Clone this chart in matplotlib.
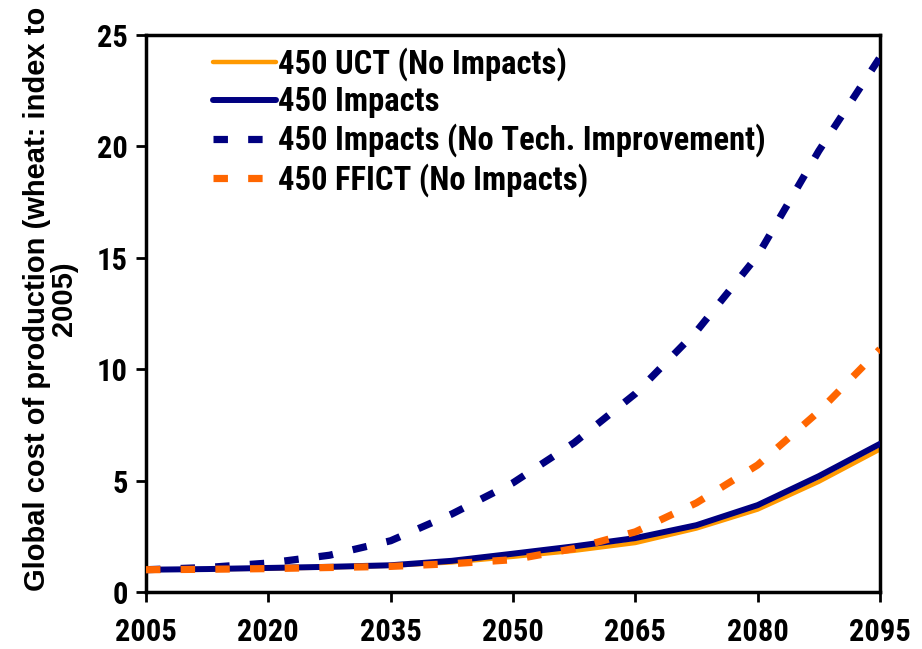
import matplotlib
matplotlib.use("Agg")
import matplotlib.pyplot as plt

years = [2005, 2012.5, 2020, 2027.5, 2035, 2042.5, 2050, 2057.5, 2065, 2072.5, 2080, 2087.5, 2095]
uct_no_impacts = [1.0, 1.02, 1.05, 1.1, 1.18, 1.33, 1.58, 1.85, 2.2, 2.85, 3.7, 4.95, 6.4]
impacts = [1.0, 1.03, 1.08, 1.13, 1.2, 1.4, 1.72, 2.05, 2.42, 3.0, 3.9, 5.2, 6.65]
impacts_no_tech = [1.0, 1.1, 1.3, 1.65, 2.3, 3.5, 4.9, 6.7, 8.9, 11.7, 15.1, 19.8, 24.0]
ffict_no_impacts = [1.0, 1.02, 1.05, 1.1, 1.15, 1.27, 1.45, 1.95, 2.7, 4.0, 5.7, 8.1, 10.9]

labels = ["450 UCT (No Impacts)", "450 Impacts",
          "450 Impacts (No Tech. Improvement)", "450 FFICT (No Impacts)"]
xticks = [2005, 2020, 2035, 2050, 2065, 2080, 2095]
yticks = [0, 5, 10, 15, 20, 25]

narrow = ["Roboto Condensed", "PT Sans Narrow", "Liberation Sans", "DejaVu Sans"]

fig = plt.figure(figsize=(9.22, 6.49), dpi=100)
ax = fig.add_axes([146 / 922, 57 / 649, 734 / 922, 557 / 649])

ax.plot(years, uct_no_impacts, color="#FF9900", lw=3.2, label=labels[0], solid_capstyle="round", zorder=2)
ax.plot(years, impacts, color="#000080", lw=4.3, label=labels[1], solid_capstyle="round", zorder=3)
ax.plot(years, impacts_no_tech, color="#000080", lw=5.2, dashes=(2.0, 2.8), dash_capstyle="butt",
        label=labels[2], zorder=4)
ax.plot(years, ffict_no_impacts, color="#FF6600", lw=5.2, dashes=(2.0, 2.8), dash_capstyle="butt",
        label=labels[3], zorder=5)

ax.set_xlim(2005, 2095)
ax.set_ylim(0, 25)
ax.set_xticks(xticks)
ax.set_yticks(yticks)
ax.set_xticklabels([str(x) for x in xticks], family=narrow, fontweight="bold", fontsize=22)
ax.set_yticklabels([str(y) for y in yticks], family=narrow, fontweight="bold", fontsize=22)
ax.tick_params(direction="out", length=7, width=2)
ax.tick_params(axis="x", pad=11)
ax.tick_params(axis="y", pad=6)

for sp in ax.spines.values():
    sp.set_linewidth(2.5)
    sp.set_color("black")

ax.set_ylabel("Global cost of production (wheat: index to\n2005)", family=["Liberation Sans", "DejaVu Sans"],
              fontweight="bold", fontsize=21, linespacing=0.95)
ax.yaxis.set_label_coords(-0.093, 0.526)

leg = ax.legend(loc="upper left", bbox_to_anchor=(0.060, 1.02), frameon=False,
                prop={"family": narrow, "weight": "bold", "size": 23.5},
                handlelength=1.93, handletextpad=0.05, labelspacing=0.17, borderpad=0.2)

fig.savefig("out.png", dpi=100)
